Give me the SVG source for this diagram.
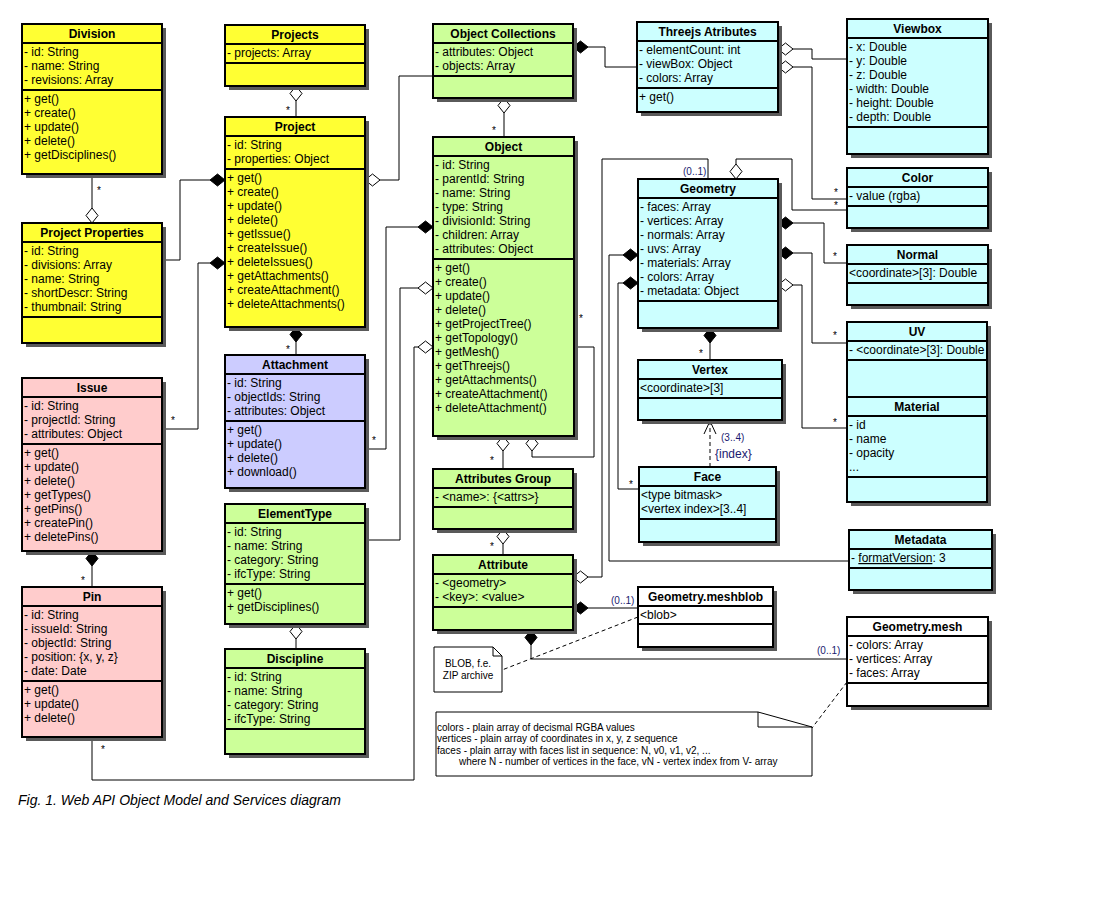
<svg xmlns="http://www.w3.org/2000/svg" width="1093" height="920" viewBox="0 0 1093 920">
<style>
text{font-family:"Liberation Sans",Arial,sans-serif;fill:#000}
.t{font-size:12px;font-weight:bold;text-anchor:middle}
.a{font-size:12px}
.sh{fill:#5a5a5a}
.bx{stroke:#000;stroke-width:2}
.dv{stroke:#000;stroke-width:2}
.y{fill:#ffff33}.g{fill:#ccff99}.c{fill:#ccffff}.p{fill:#ffcccc}.l{fill:#ccccff}.w{fill:#fff}
.cn{fill:none;stroke:#000;stroke-width:1}
.dash{fill:none;stroke:#000;stroke-width:1;stroke-dasharray:4,3}
.fd{fill:#000;stroke:#000;stroke-width:1}
.hd{fill:#fff;stroke:#000;stroke-width:1}
.m{font-size:10px}
.b{font-size:10px;fill:#1a1a70}
.n{font-size:10px}
.note{fill:#fff;stroke:#000;stroke-width:1}
.cap{font-size:14px;font-style:italic}
</style>
<rect width="1093" height="920" fill="#fff"/>

<g id="connectors">
<!-- Division - Project Properties -->
<line class="cn" x1="92" y1="174" x2="92" y2="208"/>
<polygon class="hd" points="92,223 86,215.5 92,208 98,215.5"/>
<text class="m" x="97" y="194">*</text>
<!-- Project Properties - Project -->
<polyline class="cn" points="162,260 180,260 180,180 210,180"/>
<polygon class="fd" points="225,180 217.5,174 210,180 217.5,186"/>
<!-- Issue - Project -->
<polyline class="cn" points="162,429 198,429 198,263 210,263"/>
<polygon class="fd" points="225,263 217.5,257 210,263 217.5,269"/>
<text class="m" x="171" y="424">*</text>
<!-- Projects - Project -->
<polygon class="hd" points="296,86 302,93.5 296,101 290,93.5"/>
<line class="cn" x1="296" y1="101" x2="296" y2="117"/>
<text class="m" x="286" y="114">*</text>
<!-- Project - Object Collections -->
<polygon class="hd" points="365,180 372.5,174 380,180 372.5,186"/>
<polyline class="cn" points="380,180 399,180 399,76 433,76"/>
<!-- Project - Attachment -->
<polygon class="fd" points="296,327 302,334.5 296,342 290,334.5"/>
<line class="cn" x1="296" y1="342" x2="296" y2="355"/>
<text class="m" x="286" y="353">*</text>
<!-- Attachment - Object -->
<polyline class="cn" points="365,449 386,449 386,227 418,227"/>
<polygon class="fd" points="433,227 425.5,221 418,227 425.5,233"/>
<text class="m" x="372" y="444">*</text>
<!-- ElementType - Object -->
<polyline class="cn" points="365,540 400,540 400,288 418,288"/>
<polygon class="hd" points="433,288 425.5,282 418,288 425.5,294"/>
<!-- Pin - Object -->
<polyline class="cn" points="92,737 92,780 414,780 414,347 418,347"/>
<polygon class="hd" points="433,347 425.5,341 418,347 425.5,353"/>
<text class="m" x="101" y="753">*</text>
<!-- ElementType - Discipline -->
<polygon class="hd" points="296,624 302,631.5 296,639 290,631.5"/>
<line class="cn" x1="296" y1="639" x2="296" y2="649"/>
<!-- Issue - Pin -->
<polygon class="fd" points="92,551 98,558.5 92,566 86,558.5"/>
<line class="cn" x1="92" y1="566" x2="92" y2="587"/>
<text class="m" x="81" y="584">*</text>
<!-- Object Collections - Object -->
<polygon class="hd" points="504,98 510,105.5 504,113 498,105.5"/>
<line class="cn" x1="504" y1="113" x2="504" y2="137"/>
<text class="m" x="492" y="134">*</text>
<!-- Object Collections - Threejs -->
<polygon class="fd" points="573,47 580.5,41 588,47 580.5,53"/>
<polyline class="cn" points="588,47 605,47 605,67 637,67"/>
<!-- Object - Attributes Group -->
<polygon class="hd" points="503,436 509,443.5 503,451 497,443.5"/>
<line class="cn" x1="503" y1="451" x2="503" y2="469"/>
<text class="m" x="490" y="464">*</text>
<!-- Object self -->
<polygon class="hd" points="532,436 538,443.5 532,451 526,443.5"/>
<polyline class="cn" points="532,451 532,457 594,457 594,347 574,347"/>
<text class="m" x="579" y="322">*</text>
<!-- Attributes Group - Attribute -->
<polygon class="hd" points="503,529 509,536.5 503,544 497,536.5"/>
<line class="cn" x1="503" y1="544" x2="503" y2="555"/>
<text class="m" x="490" y="550">*</text>
<!-- Attribute - Geometry -->
<polygon class="hd" points="573,577 580.5,571 588,577 580.5,583"/>
<polyline class="cn" points="588,577 602,577 602,159 708,159 708,179"/>
<text class="b" x="683" y="175">(0..1)</text>
<!-- Attribute - meshblob -->
<polygon class="fd" points="573,608 580.5,602 588,608 580.5,614"/>
<line class="cn" x1="588" y1="608" x2="638" y2="608"/>
<text class="b" x="611" y="604">(0..1)</text>
<!-- Attribute - mesh -->
<polygon class="fd" points="531,630 537,637.5 531,645 525,637.5"/>
<polyline class="cn" points="531,645 531,659 847,659"/>
<text class="b" x="817" y="654">(0..1)</text>
<!-- Threejs - Viewbox -->
<polygon class="hd" points="778,49 785.5,43 793,49 785.5,55"/>
<polyline class="cn" points="793,49 812,49 812,59 847,59"/>
<!-- Threejs - Color -->
<polygon class="hd" points="778,67 785.5,61 793,67 785.5,73"/>
<polyline class="cn" points="793,67 812,67 812,199 847,199"/>
<text class="m" x="834" y="196">*</text>
<!-- Geometry - Color -->
<polygon class="hd" points="736,179 730,171.5 736,164 742,171.5"/>
<polyline class="cn" points="736,164 736,159 792,159 792,210 847,210"/>
<text class="m" x="834" y="209">*</text>
<!-- Geometry - Normal -->
<polygon class="fd" points="778,223 785.5,217 793,223 785.5,229"/>
<polyline class="cn" points="793,223 824,223 824,263 847,263"/>
<text class="m" x="833" y="260">*</text>
<!-- Geometry - UV -->
<polygon class="fd" points="778,253 785.5,247 793,253 785.5,259"/>
<polyline class="cn" points="793,253 812,253 812,343 847,343"/>
<text class="m" x="833" y="339">*</text>
<!-- Geometry - Material -->
<polygon class="hd" points="778,285 785.5,279 793,285 785.5,291"/>
<polyline class="cn" points="793,285 802,285 802,428 847,428"/>
<text class="m" x="833" y="426">*</text>
<!-- Geometry - Metadata -->
<polygon class="fd" points="638,255 630.5,249 623,255 630.5,261"/>
<polyline class="cn" points="623,255 609,255 609,561 849,561"/>
<!-- Geometry - Face -->
<polygon class="fd" points="638,283 630.5,277 623,283 630.5,289"/>
<polyline class="cn" points="623,283 618,283 618,489 639,489"/>
<text class="m" x="629" y="488">*</text>
<!-- Geometry - Vertex -->
<polygon class="fd" points="710,328 716,335.5 710,343 704,335.5"/>
<line class="cn" x1="710" y1="343" x2="710" y2="360"/>
<text class="m" x="699" y="357">*</text>
<!-- Face - Vertex -->
<line class="dash" x1="710" y1="467" x2="710" y2="422"/>
<polyline class="cn" points="704,434 710,421 716,434"/>
<text class="b" x="721" y="441">(3..4)</text>
<text class="b" x="715" y="458" style="font-size:12px">{index}</text>
<!-- note links -->
<line class="dash" x1="638" y1="617" x2="502" y2="670"/>
<line class="dash" x1="847" y1="682" x2="812" y2="728"/>
</g>

<g id="division">
<rect class="sh" x="26" y="28" width="140" height="150"/>
<rect class="bx y" x="22" y="24" width="140" height="150"/>
<line class="dv" x1="22" y1="43" x2="162" y2="43"/>
<line class="dv" x1="22" y1="90" x2="162" y2="90"/>
<text class="t" x="92" y="38">Division</text>
<text class="a" x="24" y="56">- id: String</text>
<text class="a" x="24" y="70">- name: String</text>
<text class="a" x="24" y="84">- revisions: Array</text>
<text class="a" x="24" y="103">+ get()</text>
<text class="a" x="24" y="117">+ create()</text>
<text class="a" x="24" y="131">+ update()</text>
<text class="a" x="24" y="145">+ delete()</text>
<text class="a" x="24" y="159">+ getDisciplines()</text>
</g>

<g id="project-properties">
<rect class="sh" x="26" y="227" width="140" height="120"/>
<rect class="bx y" x="22" y="223" width="140" height="120"/>
<line class="dv" x1="22" y1="242" x2="162" y2="242"/>
<line class="dv" x1="22" y1="317" x2="162" y2="317"/>
<text class="t" x="92" y="237">Project Properties</text>
<text class="a" x="24" y="255">- id: String</text>
<text class="a" x="24" y="269">- divisions: Array</text>
<text class="a" x="24" y="283">- name: String</text>
<text class="a" x="24" y="297">- shortDescr: String</text>
<text class="a" x="24" y="311">- thumbnail: String</text>
</g>

<g id="projects">
<rect class="sh" x="229" y="29" width="140" height="61"/>
<rect class="bx y" x="225" y="25" width="140" height="61"/>
<line class="dv" x1="225" y1="44" x2="365" y2="44"/>
<line class="dv" x1="225" y1="63" x2="365" y2="63"/>
<text class="t" x="295" y="39">Projects</text>
<text class="a" x="227" y="57">- projects: Array</text>
</g>

<g id="project">
<rect class="sh" x="229" y="121" width="140" height="210"/>
<rect class="bx y" x="225" y="117" width="140" height="210"/>
<line class="dv" x1="225" y1="136" x2="365" y2="136"/>
<line class="dv" x1="225" y1="169" x2="365" y2="169"/>
<text class="t" x="295" y="131">Project</text>
<text class="a" x="227" y="149">- id: String</text>
<text class="a" x="227" y="163">- properties: Object</text>
<text class="a" x="227" y="182">+ get()</text>
<text class="a" x="227" y="196">+ create()</text>
<text class="a" x="227" y="210">+ update()</text>
<text class="a" x="227" y="224">+ delete()</text>
<text class="a" x="227" y="238">+ getIssue()</text>
<text class="a" x="227" y="252">+ createIssue()</text>
<text class="a" x="227" y="266">+ deleteIssues()</text>
<text class="a" x="227" y="280">+ getAttachments()</text>
<text class="a" x="227" y="294">+ createAttachment()</text>
<text class="a" x="227" y="308">+ deleteAttachments()</text>
</g>

<g id="attachment">
<rect class="sh" x="229" y="359" width="140" height="133"/>
<rect class="bx l" x="225" y="355" width="140" height="133"/>
<line class="dv" x1="225" y1="374" x2="365" y2="374"/>
<line class="dv" x1="225" y1="421" x2="365" y2="421"/>
<text class="t" x="295" y="369">Attachment</text>
<text class="a" x="227" y="387">- id: String</text>
<text class="a" x="227" y="401">- objectIds: String</text>
<text class="a" x="227" y="415">- attributes: Object</text>
<text class="a" x="227" y="434">+ get()</text>
<text class="a" x="227" y="448">+ update()</text>
<text class="a" x="227" y="462">+ delete()</text>
<text class="a" x="227" y="476">+ download()</text>
</g>

<g id="issue">
<rect class="sh" x="26" y="382" width="140" height="173"/>
<rect class="bx p" x="22" y="378" width="140" height="173"/>
<line class="dv" x1="22" y1="397" x2="162" y2="397"/>
<line class="dv" x1="22" y1="444" x2="162" y2="444"/>
<text class="t" x="92" y="392">Issue</text>
<text class="a" x="24" y="410">- id: String</text>
<text class="a" x="24" y="424">- projectId: String</text>
<text class="a" x="24" y="438">- attributes: Object</text>
<text class="a" x="24" y="457">+ get()</text>
<text class="a" x="24" y="471">+ update()</text>
<text class="a" x="24" y="485">+ delete()</text>
<text class="a" x="24" y="499">+ getTypes()</text>
<text class="a" x="24" y="513">+ getPins()</text>
<text class="a" x="24" y="527">+ createPin()</text>
<text class="a" x="24" y="541">+ deletePins()</text>
</g>

<g id="pin">
<rect class="sh" x="26" y="591" width="140" height="150"/>
<rect class="bx p" x="22" y="587" width="140" height="150"/>
<line class="dv" x1="22" y1="606" x2="162" y2="606"/>
<line class="dv" x1="22" y1="681" x2="162" y2="681"/>
<text class="t" x="92" y="601">Pin</text>
<text class="a" x="24" y="619">- id: String</text>
<text class="a" x="24" y="633">- issueId: String</text>
<text class="a" x="24" y="647">- objectId: String</text>
<text class="a" x="24" y="661">- position: {x, y, z}</text>
<text class="a" x="24" y="675">- date: Date</text>
<text class="a" x="24" y="694">+ get()</text>
<text class="a" x="24" y="708">+ update()</text>
<text class="a" x="24" y="722">+ delete()</text>
</g>

<g id="element-type">
<rect class="sh" x="229" y="508" width="140" height="120"/>
<rect class="bx g" x="225" y="504" width="140" height="120"/>
<line class="dv" x1="225" y1="523" x2="365" y2="523"/>
<line class="dv" x1="225" y1="584" x2="365" y2="584"/>
<text class="t" x="295" y="518">ElementType</text>
<text class="a" x="227" y="536">- id: String</text>
<text class="a" x="227" y="550">- name: String</text>
<text class="a" x="227" y="564">- category: String</text>
<text class="a" x="227" y="578">- ifcType: String</text>
<text class="a" x="227" y="597">+ get()</text>
<text class="a" x="227" y="611">+ getDisciplines()</text>
</g>

<g id="discipline">
<rect class="sh" x="229" y="653" width="140" height="105"/>
<rect class="bx g" x="225" y="649" width="140" height="105"/>
<line class="dv" x1="225" y1="668" x2="365" y2="668"/>
<line class="dv" x1="225" y1="729" x2="365" y2="729"/>
<text class="t" x="295" y="663">Discipline</text>
<text class="a" x="227" y="681">- id: String</text>
<text class="a" x="227" y="695">- name: String</text>
<text class="a" x="227" y="709">- category: String</text>
<text class="a" x="227" y="723">- ifcType: String</text>
</g>

<g id="object-collections">
<rect class="sh" x="437" y="28" width="140" height="74"/>
<rect class="bx g" x="433" y="24" width="140" height="74"/>
<line class="dv" x1="433" y1="43" x2="573" y2="43"/>
<line class="dv" x1="433" y1="76" x2="573" y2="76"/>
<text class="t" x="503" y="38">Object Collections</text>
<text class="a" x="435" y="56">- attributes: Object</text>
<text class="a" x="435" y="70">- objects: Array</text>
</g>

<g id="object">
<rect class="sh" x="437" y="141" width="141" height="299"/>
<rect class="bx g" x="433" y="137" width="141" height="299"/>
<line class="dv" x1="433" y1="156" x2="574" y2="156"/>
<line class="dv" x1="433" y1="259" x2="574" y2="259"/>
<text class="t" x="503.5" y="151">Object</text>
<text class="a" x="435" y="169">- id: String</text>
<text class="a" x="435" y="183">- parentId: String</text>
<text class="a" x="435" y="197">- name: String</text>
<text class="a" x="435" y="211">- type: String</text>
<text class="a" x="435" y="225">- divisionId: String</text>
<text class="a" x="435" y="239">- children: Array</text>
<text class="a" x="435" y="253">- attributes: Object</text>
<text class="a" x="435" y="272">+ get()</text>
<text class="a" x="435" y="286">+ create()</text>
<text class="a" x="435" y="300">+ update()</text>
<text class="a" x="435" y="314">+ delete()</text>
<text class="a" x="435" y="328">+ getProjectTree()</text>
<text class="a" x="435" y="342">+ getTopology()</text>
<text class="a" x="435" y="356">+ getMesh()</text>
<text class="a" x="435" y="370">+ getThreejs()</text>
<text class="a" x="435" y="384">+ getAttachments()</text>
<text class="a" x="435" y="398">+ createAttachment()</text>
<text class="a" x="435" y="412">+ deleteAttachment()</text>
</g>

<g id="attributes-group">
<rect class="sh" x="437" y="473" width="140" height="60"/>
<rect class="bx g" x="433" y="469" width="140" height="60"/>
<line class="dv" x1="433" y1="488" x2="573" y2="488"/>
<line class="dv" x1="433" y1="507" x2="573" y2="507"/>
<text class="t" x="503" y="483">Attributes Group</text>
<text class="a" x="435" y="501">- &lt;name&gt;: {&lt;attrs&gt;}</text>
</g>

<g id="attribute">
<rect class="sh" x="437" y="559" width="140" height="75"/>
<rect class="bx g" x="433" y="555" width="140" height="75"/>
<line class="dv" x1="433" y1="574" x2="573" y2="574"/>
<line class="dv" x1="433" y1="607" x2="573" y2="607"/>
<text class="t" x="503" y="569">Attribute</text>
<text class="a" x="435" y="587">- &lt;geometry&gt;</text>
<text class="a" x="435" y="601">- &lt;key&gt;: &lt;value&gt;</text>
</g>

<g id="threejs-attributes">
<rect class="sh" x="641" y="26" width="141" height="90"/>
<rect class="bx c" x="637" y="22" width="141" height="90"/>
<line class="dv" x1="637" y1="41" x2="778" y2="41"/>
<line class="dv" x1="637" y1="88" x2="778" y2="88"/>
<text class="t" x="707.5" y="36">Threejs Atributes</text>
<text class="a" x="639" y="54">- elementCount: int</text>
<text class="a" x="639" y="68">- viewBox: Object</text>
<text class="a" x="639" y="82">- colors: Array</text>
<text class="a" x="639" y="101">+ get()</text>
</g>

<g id="geometry">
<rect class="sh" x="642" y="183" width="140" height="149"/>
<rect class="bx c" x="638" y="179" width="140" height="149"/>
<line class="dv" x1="638" y1="198" x2="778" y2="198"/>
<line class="dv" x1="638" y1="301" x2="778" y2="301"/>
<text class="t" x="708" y="193">Geometry</text>
<text class="a" x="640" y="211">- faces: Array</text>
<text class="a" x="640" y="225">- vertices: Array</text>
<text class="a" x="640" y="239">- normals: Array</text>
<text class="a" x="640" y="253">- uvs: Array</text>
<text class="a" x="640" y="267">- materials: Array</text>
<text class="a" x="640" y="281">- colors: Array</text>
<text class="a" x="640" y="295">- metadata: Object</text>
</g>

<g id="vertex">
<rect class="sh" x="642" y="364" width="144" height="60"/>
<rect class="bx c" x="638" y="360" width="144" height="60"/>
<line class="dv" x1="638" y1="379" x2="782" y2="379"/>
<line class="dv" x1="638" y1="398" x2="782" y2="398"/>
<text class="t" x="710" y="374">Vertex</text>
<text class="a" x="640" y="392">&lt;coordinate&gt;[3]</text>
</g>

<g id="face">
<rect class="sh" x="643" y="471" width="137" height="75"/>
<rect class="bx c" x="639" y="467" width="137" height="75"/>
<line class="dv" x1="639" y1="486" x2="776" y2="486"/>
<line class="dv" x1="639" y1="519" x2="776" y2="519"/>
<text class="t" x="707.5" y="481">Face</text>
<text class="a" x="641" y="499">&lt;type bitmask&gt;</text>
<text class="a" x="641" y="513">&lt;vertex index&gt;[3..4]</text>
</g>

<g id="geometry-meshblob">
<rect class="sh" x="642" y="591" width="135" height="60"/>
<rect class="bx w" x="638" y="587" width="135" height="60"/>
<line class="dv" x1="638" y1="606" x2="773" y2="606"/>
<line class="dv" x1="638" y1="624" x2="773" y2="624"/>
<text class="t" x="705.5" y="601">Geometry.meshblob</text>
<text class="a" x="640" y="619">&lt;blob&gt;</text>
</g>

<g id="viewbox">
<rect class="sh" x="851" y="23" width="141" height="135"/>
<rect class="bx c" x="847" y="19" width="141" height="135"/>
<line class="dv" x1="847" y1="38" x2="988" y2="38"/>
<line class="dv" x1="847" y1="127" x2="988" y2="127"/>
<text class="t" x="917.5" y="33">Viewbox</text>
<text class="a" x="849" y="51">- x: Double</text>
<text class="a" x="849" y="65">- y: Double</text>
<text class="a" x="849" y="79">- z: Double</text>
<text class="a" x="849" y="93">- width: Double</text>
<text class="a" x="849" y="107">- height: Double</text>
<text class="a" x="849" y="121">- depth: Double</text>
</g>

<g id="color">
<rect class="sh" x="851" y="172" width="141" height="60"/>
<rect class="bx c" x="847" y="168" width="141" height="60"/>
<line class="dv" x1="847" y1="187" x2="988" y2="187"/>
<line class="dv" x1="847" y1="206" x2="988" y2="206"/>
<text class="t" x="917.5" y="182">Color</text>
<text class="a" x="849" y="200">- value (rgba)</text>
</g>

<g id="normal">
<rect class="sh" x="851" y="249" width="141" height="60"/>
<rect class="bx c" x="847" y="245" width="141" height="60"/>
<line class="dv" x1="847" y1="264" x2="988" y2="264"/>
<line class="dv" x1="847" y1="283" x2="988" y2="283"/>
<text class="t" x="917.5" y="259">Normal</text>
<text class="a" x="849" y="277">&lt;coordinate&gt;[3]: Double</text>
</g>

<g id="uv">
<rect class="sh" x="851" y="326" width="140" height="75"/>
<rect class="bx c" x="847" y="322" width="140" height="75"/>
<line class="dv" x1="847" y1="341" x2="987" y2="341"/>
<line class="dv" x1="847" y1="360" x2="987" y2="360"/>
<text class="t" x="917" y="336">UV</text>
<text class="a" x="849" y="354">- &lt;coordinate&gt;[3]: Double</text>
</g>

<g id="material">
<rect class="sh" x="851" y="401" width="140" height="105"/>
<rect class="bx c" x="847" y="397" width="140" height="105"/>
<line class="dv" x1="847" y1="416" x2="987" y2="416"/>
<line class="dv" x1="847" y1="477" x2="987" y2="477"/>
<text class="t" x="917" y="411">Material</text>
<text class="a" x="849" y="429">- id</text>
<text class="a" x="849" y="443">- name</text>
<text class="a" x="849" y="457">- opacity</text>
<text class="a" x="849" y="471">...</text>
</g>

<g id="metadata">
<rect class="sh" x="853" y="534" width="143" height="60"/>
<rect class="bx c" x="849" y="530" width="143" height="60"/>
<line class="dv" x1="849" y1="549" x2="992" y2="549"/>
<line class="dv" x1="849" y1="568" x2="992" y2="568"/>
<text class="t" x="920.5" y="544">Metadata</text>
<text class="a" x="851" y="562">- <tspan text-decoration="underline">formatVersion</tspan>: 3</text>
</g>

<g id="geometry-mesh">
<rect class="sh" x="851" y="621" width="141" height="89"/>
<rect class="bx w" x="847" y="617" width="141" height="89"/>
<line class="dv" x1="847" y1="636" x2="988" y2="636"/>
<line class="dv" x1="847" y1="683" x2="988" y2="683"/>
<text class="t" x="917.5" y="631">Geometry.mesh</text>
<text class="a" x="849" y="649">- colors: Array</text>
<text class="a" x="849" y="663">- vertices: Array</text>
<text class="a" x="849" y="677">- faces: Array</text>
</g>

<g id="blob-note">
<polygon class="note" points="434,647 493,647 502,656 502,692 434,692"/>
<polyline class="cn" points="493,647 493,656 502,656"/>
<text class="n" x="468" y="667" text-anchor="middle">BLOB, f.e.</text>
<text class="n" x="468" y="679" text-anchor="middle">ZIP archive</text>
</g>

<g id="format-note">
<polygon class="note" points="436,712 758,712 812,727 812,776 436,776"/>
<polyline class="cn" points="758,712 758,727 812,727"/>
<text class="n" x="437" y="731">colors - plain array of decismal RGBA values</text>
<text class="n" x="437" y="742">vertices - plain array of coordinates in x, y, z sequence</text>
<text class="n" x="437" y="754">faces - plain array with faces list in sequence: N, v0, v1, v2, ...</text>
<text class="n" x="459" y="765">where N - number of vertices in the face, vN - vertex index from V- array</text>
</g>

<text class="cap" x="18" y="805">Fig. 1. Web API Object Model and Services diagram</text>
</svg>
